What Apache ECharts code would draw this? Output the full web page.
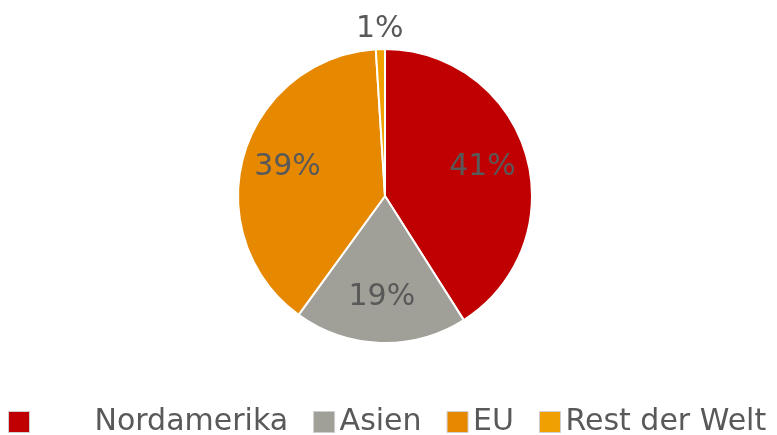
<!DOCTYPE html>
<html>
<head>
<meta charset="utf-8">
<script src="https://cdn.jsdelivr.net/npm/echarts@6/dist/echarts.min.js"></script>
<style>
  html, body { margin: 0; padding: 0; background: #fff; }
  #chart { width: 777px; height: 435px; }
</style>
</head>
<body>
<div id="chart"></div>
<script>
const regions = ['Nordamerika', 'Asien', 'EU', 'Rest der Welt'];
const shares = [41, 19, 39, 1];
const colors = ['#C00000', '#A09F98', '#E68900', '#F0A000'];

const textColor = '#595959';
const font = 'DejaVu Sans';

const chart = echarts.init(document.getElementById('chart'));

const sliceData = regions.map((name, i) => ({
  name: name,
  value: shares[i],
  itemStyle: { color: colors[i] }
}));

// big slices get their label inside, tiny ones just outside the pie
const innerLabels = regions.map((name, i) => ({
  name: name,
  value: shares[i],
  label: { show: shares[i] >= 5 }
}));
const outerLabels = regions.map((name, i) => ({
  name: name,
  value: shares[i],
  label: { show: shares[i] < 5 }
}));

const valueLabel = {
  position: 'inside',
  color: textColor,
  fontFamily: font,
  fontSize: 30,
  formatter: function (p) { return p.value + '%'; }
};

const option = {
  animation: false,
  legend: {
    data: regions,
    left: 8,
    top: 407,
    padding: 0,
    itemWidth: 21,
    itemHeight: 21,
    itemGap: 25,
    icon: 'rect',
    itemStyle: { borderColor: '#cfcfcf', borderWidth: 1 },
    formatter: function (name) {
      return name === regions[0] ? '{gap| }' + name : name;
    },
    textStyle: {
      color: textColor,
      fontFamily: font,
      fontSize: 30,
      rich: {
        gap: { width: 60 }
      }
    }
  },
  series: [
    {
      name: 'slices',
      type: 'pie',
      center: [385, 196],
      radius: [0, 147],
      startAngle: 90,
      silent: true,
      label: { show: false },
      labelLine: { show: false },
      itemStyle: { borderColor: '#ffffff', borderWidth: 2 },
      data: sliceData
    },
    {
      name: 'inner labels',
      type: 'pie',
      center: [385, 196],
      radius: [50, 147],
      startAngle: 90,
      silent: true,
      itemStyle: { color: 'rgba(0,0,0,0)', borderWidth: 0 },
      label: valueLabel,
      labelLine: { show: false },
      data: innerLabels
    },
    {
      name: 'outer labels',
      type: 'pie',
      center: [385, 196],
      radius: [147, 181],
      startAngle: 90,
      silent: true,
      itemStyle: { color: 'rgba(0,0,0,0)', borderWidth: 0 },
      label: valueLabel,
      labelLine: { show: false },
      data: outerLabels
    }
  ]
};

chart.setOption(option);
</script>
</body>
</html>
